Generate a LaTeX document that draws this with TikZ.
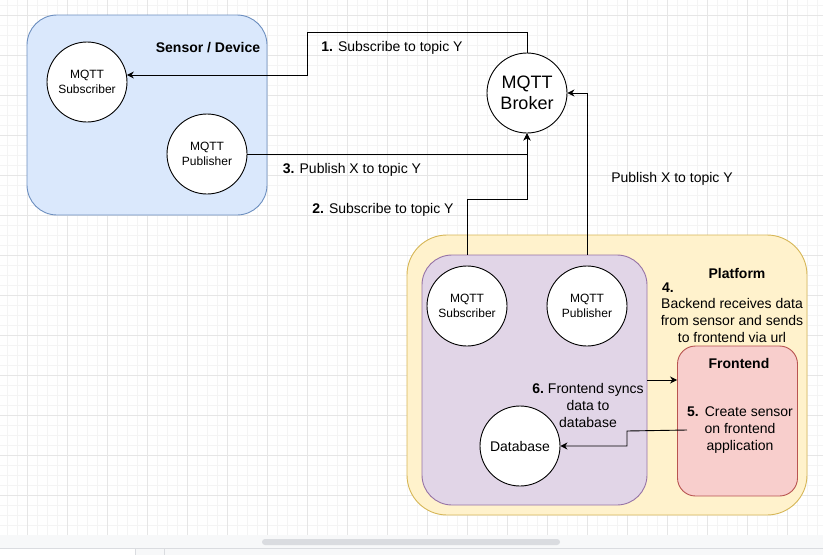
\documentclass[tikz,border=0pt]{standalone}
\usepackage{fontspec}
\setmainfont{Liberation Sans}
\usepackage{tikz}
\usetikzlibrary{arrows.meta}
\usetikzlibrary{positioning}
\definecolor{blueF}{HTML}{DAE8FC}
\definecolor{blueD}{HTML}{6C8EBF}
\definecolor{yelF}{HTML}{FFF2CC}
\definecolor{yelD}{HTML}{D6B656}
\definecolor{purF}{HTML}{E1D5E7}
\definecolor{purD}{HTML}{9673A6}
\definecolor{redF}{HTML}{F8CECC}
\definecolor{redD}{HTML}{B85450}
\definecolor{gridA}{HTML}{F4F4F4}
\definecolor{gridB}{HTML}{E6E6E6}
\definecolor{barF}{HTML}{F7F8F9}
\definecolor{barD}{HTML}{DADCE0}
\tikzset{>={Stealth[length=7pt,width=7pt]}}
\tikzstyle{hub} = [circle, draw, fill=white, line width=0.9pt, minimum size=80pt, inner sep=0, align=center, font=\fontsize{12}{14.5}\selectfont]
\tikzstyle{grp} = [rectangle, line width=0.9pt, inner sep=0]
\tikzstyle{lbl} = [draw=none, inner sep=0, align=center, font=\fontsize{14}{17}\selectfont]
\tikzstyle{flow} = [->, line width=0.9pt]

\begin{document}
\begin{tikzpicture}[x=1pt, y=-1pt]
\useasboundingbox (0,0) rectangle (823,555);
% background grid
\foreach \x in {7,17,...,817} \draw[gridA, line width=0.6pt] (\x,0) -- (\x,535);
\foreach \y in {5,15,...,535} \draw[gridA, line width=0.6pt] (0,\y) -- (823,\y);
\foreach \x in {27,67,...,807} \draw[gridB, line width=0.8pt] (\x,0) -- (\x,535);
\foreach \y in {15,55,...,495} \draw[gridB, line width=0.8pt] (0,\y) -- (823,\y);
% scroll bar
\fill[barF] (0,535) rectangle (823,548);
\fill[barD, rounded corners=3pt] (262,539) rectangle (560,545);
\fill[barF!60!barD!40] (135,548) rectangle (823,555);
\draw[barD, line width=0.8pt] (0,548) -- (823,548);
\draw[barD, line width=0.8pt] (135,548) -- (135,555);
\draw[barD, line width=0.8pt] (164,548) -- (164,555);

% groups
\node [grp, draw=blueD, fill=blueF, rounded corners=30pt, minimum width=240pt, minimum height=200pt] (SD) at (147,115) {};
\node [grp, draw=yelD, fill=yelF, rounded corners=40pt, minimum width=400pt, minimum height=280pt] (PF) at (607,375) {};
\node [grp, draw=purD, fill=purF, rounded corners=30pt, minimum width=225pt, minimum height=250pt] (BE) at (534.5,380) {};
\node [grp, draw=redD, fill=redF, rounded corners=18pt, minimum width=120pt, minimum height=150pt] (FE) at (737.5,421) {};

\node [lbl, font=\fontsize{14}{17}\selectfont\bfseries] (tSD) at (208,48) {Sensor / Device};
\node [lbl, font=\fontsize{14}{17}\selectfont\bfseries] (tPF) at (737,273) {Platform};
\node [lbl, font=\fontsize{14}{17}\selectfont\bfseries] (tFE) at (739,363) {Frontend};

% circles
\node [hub] (S1) at (87,82) {MQTT\\Subscriber};
\node [hub] (P1) at (207,154) {MQTT\\Publisher};
\node [hub, font=\fontsize{18}{21.5}\selectfont] (B) at (527,93) {MQTT\\Broker};
\node [hub] (S2) at (467,306) {MQTT\\Subscriber};
\node [hub] (P2) at (587,306) {MQTT\\Publisher};
\node [hub, font=\fontsize{14}{17}\selectfont] (D) at (520,446) {Database};

% labels
\node [lbl] (L1) at (392,48) {\textbf{1.}\hspace{5pt}Subscribe to topic Y};
\node [lbl] (L3) at (352,170) {\textbf{3.}\hspace{5pt}Publish X to topic Y};
\node [lbl] (L2) at (383,210) {\textbf{2.}\hspace{5pt}Subscribe to topic Y};
\node [lbl] (LP) at (672,179) {Publish X to topic Y};
\node [lbl, anchor=west] (L4) at (662,288) {\textbf{4.}};
\node [lbl] (L4b) at (732,320) {Backend receives data\\from sensor and sends\\to frontend via url};
\node [lbl] (L6) at (588,405) {\textbf{6.}\hspace{4pt}Frontend syncs\\data to\\database};
\node [lbl] (L5) at (740,430) {\textbf{5.}\hspace{6pt}Create sensor\\on frontend\\application};

% connectors
\coordinate (k1) at (307,32);
\coordinate (k2) at (467,199);
\coordinate (k4) at (627,431);
\draw [flow] (B.north) |- (k1) |- (S1.10);
\draw [flow] (P1.east) -| (B.south);
\draw [flow] (S2 |- BE.north) |- (k2) -| (B.south);
\draw [flow] (P2 |- BE.north) |- (B.east);
\draw [flow] (BE.east) -- (BE.east -| FE.west);
\draw [flow] (L5.west) -- (k4) |- (D.east);
\end{tikzpicture}
\end{document}
